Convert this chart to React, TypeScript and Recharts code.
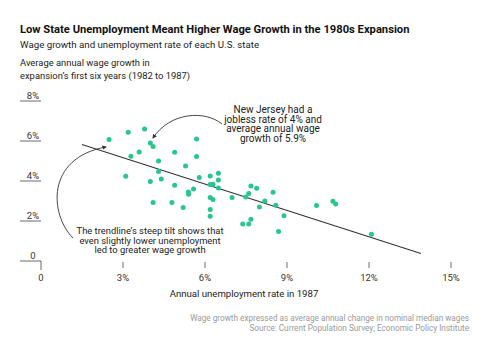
import React from 'react';
import { ScatterChart, Scatter, XAxis, YAxis, ReferenceLine } from 'recharts';

// unemployment rate in 1987 (%) per state
const unemployment = [
  2.49, 3.19, 3.79, 4.0, 4.1, 5.69, 3.29, 3.59, 4.89, 4.3, 5.69, 5.29, 3.1,
  4.3, 4.0, 4.4, 4.89, 5.79, 5.58, 5.39, 5.4, 4.1, 4.79, 5.2, 6.19, 6.49,
  6.49, 6.19, 6.29, 6.49, 6.19, 6.29, 6.19, 6.19, 6.99, 7.49, 7.6, 7.38,
  7.6, 7.68, 7.89, 8.49, 8.19, 7.99, 8.59, 8.89, 7.68, 8.69, 10.08, 10.68,
  10.78, 12.09,
];
// average annual wage growth 1982-1987 (%)
const wageGrowth = [
  6.07, 6.44, 6.6, 5.9, 5.72, 6.1, 5.24, 5.45, 5.44, 5.0, 5.22, 4.75, 4.24,
  4.47, 3.97, 4.1, 3.79, 4.17, 3.6, 3.45, 3.34, 2.92, 2.92, 2.67, 4.25, 4.39,
  4.05, 3.82, 3.84, 3.65, 3.17, 3.07, 2.57, 2.24, 3.17, 3.2, 3.37, 1.85,
  1.85, 3.75, 3.64, 3.44, 3.0, 2.7, 2.79, 2.26, 2.09, 1.47, 2.77, 2.99,
  2.85, 1.34,
];

const xTicks = [0, 3, 6, 9, 12, 15];
const yTicks = [0, 2, 4, 6, 8];
const trendStart = { x: 1.5, y: 5.82 };
const trendEnd = { x: 13.9, y: 0.37 };

const FONT = 'Roboto, "Liberation Sans", Arial, sans-serif';
const DOT = '#27c78c';

const points = unemployment.map((u, i) => ({ u, w: wageGrowth[i] }));

function YTick(props: any) {
  const { y, payload } = props;
  const v = payload.value;
  return (
    <g>
      <line x1={20} x2={41} y1={y} y2={y} stroke="#444" strokeWidth={0.8} />
      <text x={33} y={y - 2.5} textAnchor="middle" fontSize={9.5} fill="#333" fontFamily={FONT}>
        {v === 0 ? '0' : `${v}%`}
      </text>
    </g>
  );
}

function XTick(props: any) {
  const { x, payload } = props;
  const v = payload.value;
  return (
    <g>
      <line x1={x} x2={x} y1={v === 0 ? 261 : 262} y2={v === 0 ? 270 : 268} stroke="#444" strokeWidth={0.8} />
      <text x={x} y={280.5} textAnchor="middle" fontSize={9.5} fill="#333" fontFamily={FONT}>
        {v === 0 ? '0' : `${v}%`}
      </text>
    </g>
  );
}

export default function App() {
  return (
    <div style={{ position: 'absolute', left: 0, top: 0, width: 488, height: 357, background: '#fff', fontFamily: FONT, color: '#111' }}>
      <div style={{ position: 'absolute', left: 20, top: 23, fontSize: 11.2, fontWeight: 700, whiteSpace: 'nowrap' }}>
        Low State Unemployment Meant Higher Wage Growth in the 1980s Expansion
      </div>
      <div style={{ position: 'absolute', left: 20, top: 38.5, fontSize: 9.7, whiteSpace: 'nowrap', color: '#222' }}>
        Wage growth and unemployment rate of each U.S. state
      </div>
      <div style={{ position: 'absolute', left: 20, top: 57, fontSize: 9.4, lineHeight: '12.5px', whiteSpace: 'nowrap', color: '#222' }}>
        Average annual wage growth in
        <br />
        expansion’s first six years (1982 to 1987)
      </div>

      <ScatterChart width={488} height={357} margin={{ top: 101, right: 37, bottom: 66, left: 0 }} style={{ position: 'absolute', left: 0, top: 0 }}>
        <XAxis
          type="number"
          dataKey="u"
          domain={[0, 15]}
          ticks={xTicks}
          height={30}
          axisLine={false}
          tickLine={false}
          tick={<XTick />}
          interval={0}
        />
        <YAxis
          type="number"
          dataKey="w"
          domain={[0, 8]}
          ticks={yTicks}
          width={41}
          axisLine={false}
          tickLine={false}
          tick={<YTick />}
          interval={0}
        />
        <ReferenceLine segment={[trendStart, trendEnd]} stroke="#333" strokeWidth={1.1} />
        <Scatter
          data={points}
          isAnimationActive={false}
          shape={(p: any) => <circle cx={p.cx} cy={p.cy} r={2.5} fill={DOT} />}
        />
      </ScatterChart>

      <svg width={488} height={357} style={{ position: 'absolute', left: 0, top: 0, pointerEvents: 'none' }}>
        <defs>
          <marker id="arrow" viewBox="0 0 10 10" refX="8" refY="5" markerWidth="5" markerHeight="5" orient="auto-start-reverse">
            <path d="M0,0 L10,5 L0,10 z" fill="#333" />
          </marker>
        </defs>
        <path d="M222,124 C205,110 170,112 153,138" fill="none" stroke="#333" strokeWidth={0.9} markerEnd="url(#arrow)" />
        <path d="M73,238 C50,215 45,158 106,147" fill="none" stroke="#333" strokeWidth={0.9} markerEnd="url(#arrow)" />
      </svg>

      <div style={{ position: 'absolute', left: 203, width: 140, top: 105, fontSize: 10, lineHeight: '9.6px', textAlign: 'center', color: '#222' }}>
        New Jersey had a<br />jobless rate of 4% and<br />average annual wage<br />growth of 5.9%
      </div>
      <div style={{ position: 'absolute', left: 50, width: 200, top: 226, fontSize: 9.4, lineHeight: '9.7px', textAlign: 'center', color: '#222', whiteSpace: 'nowrap' }}>
        The trendline’s steep tilt shows that<br />even slightly lower unemployment<br />led to greater wage growth
      </div>

      <div style={{ position: 'absolute', left: 0, width: 488, top: 288, fontSize: 9.6, textAlign: 'center', color: '#222' }}>
        Annual unemployment rate in 1987
      </div>
      <div style={{ position: 'absolute', right: 19, top: 313, fontSize: 8.2, lineHeight: '10px', textAlign: 'right', color: '#9a9a9a', whiteSpace: 'nowrap' }}>
        Wage growth expressed as average annual change in nominal median wages
        <br />
        Source: Current Population Survey; Economic Policy Institute
      </div>
    </div>
  );
}
